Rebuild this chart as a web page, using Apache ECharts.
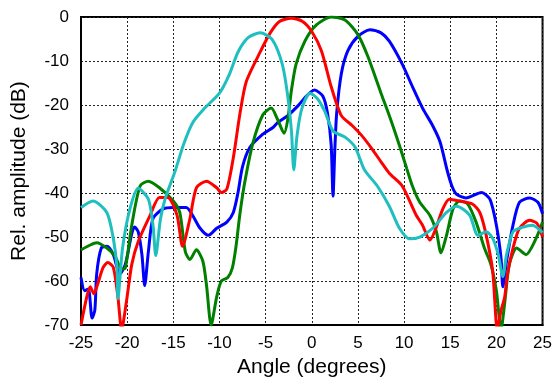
<!DOCTYPE html>
<html>
<head>
<meta charset="utf-8">
<script src="https://cdn.jsdelivr.net/npm/echarts@6/dist/echarts.min.js"></script>
<style>
	html, body { margin: 0; background: #fff; }
	#chart { width: 555px; height: 383px; }
</style>
</head>
<body>
<div id="chart"></div>
<script>
// [angle (deg), relative amplitude (dB)]
const blueBeam = [
	[-25, -59.2], [-24.6, -62.2], [-24.2, -61.8], [-23.8, -68.4], [-23.5, -66.6], [-23.3, -58.4], [-22.8, -52.5],
	[-22.2, -52.1], [-21.5, -54], [-20.8, -58.4], [-20.2, -56.2], [-19.5, -49.2], [-19.2, -47.7], [-18.8, -48.8],
	[-18.4, -54], [-18.1, -61], [-17.7, -53.3], [-17.2, -45.8], [-16.1, -43.6], [-15, -43.3], [-13.6, -43.3],
	[-12.9, -45.1], [-12.1, -48], [-11.2, -49.6], [-10.3, -48], [-9.2, -46.6], [-8.5, -44.4], [-8, -40],
	[-7.5, -34], [-6.7, -29.6], [-5.3, -26.6], [-4.2, -25.1], [-3.7, -24], [-2.6, -22.4], [-1.5, -20.2],
	[-0.6, -18], [0.3, -16.6], [1.2, -18], [1.7, -21.8], [2.1, -29], [2.3, -40.7], [2.5, -30], [2.7, -21.8],
	[3.2, -12.9], [3.9, -7.7], [5, -4.4], [6.3, -2.9], [7.5, -3.6], [8.4, -5.5], [9.8, -10.7], [10.9, -15.8],
	[12, -20.7], [13.1, -24.7], [13.9, -28.4], [14.7, -35.1], [15.2, -38.5], [15.7, -40.3], [16.7, -41.1],
	[18.4, -39.9], [19.3, -41.4], [20, -47.3], [20.5, -54.7], [20.7, -61.3], [21.1, -55.5], [21.8, -47.3],
	[22.5, -42.1], [23.6, -41.1], [24.5, -42.1], [25, -44.7]
];

const redBeam = [
	[-25, -70], [-24.4, -63.8], [-24, -61.3], [-23.6, -62.9], [-23.2, -60.7], [-22.6, -56.9], [-22.1, -55.8],
	[-21.5, -56.9], [-21, -63.6], [-20.6, -71], [-20.1, -65], [-19.5, -56.2], [-18.8, -51], [-17.5, -45],
	[-16.5, -41], [-15.6, -41], [-14.6, -45], [-14, -52.1], [-13.2, -45.8], [-12.5, -38.8], [-11.4, -37.3],
	[-10.3, -38.8], [-9.8, -39.9], [-9.2, -39.1], [-8.5, -32], [-7.8, -22.2], [-7.1, -14.7], [-5.6, -8],
	[-4.5, -3.6], [-3.5, -1], [-2.2, -0.3], [-1, -1], [0, -3.3], [1.05, -7.7], [2.1, -15.8], [3.2, -22.4],
	[4.4, -24.7], [5.4, -26.9], [6.5, -29.9], [7.5, -32.9], [8.4, -35.5], [9.8, -38.4], [11.3, -45],
	[12, -47.3], [12.8, -50.7], [13.3, -48.8], [14.2, -43.6], [14.9, -41.4], [16, -41.8], [17.4, -42.5],
	[18.2, -44.4], [18.9, -49.6], [19.6, -57.8], [20.1, -71], [20.5, -66.7], [20.9, -63.6], [21.2, -58.4],
	[21.8, -52.5], [22.5, -48], [23.6, -46.2], [24.4, -46.9], [25, -50]
];

const greenBeam = [
	[-25, -52.9], [-24, -51.8], [-23.3, -51.3], [-22.2, -52.5], [-21.3, -54.4], [-20.6, -57.3], [-20.2, -57],
	[-19.5, -47.3], [-18.6, -38.4], [-17.7, -37.3], [-16.5, -38.8], [-15, -41.8], [-14.3, -44.4], [-13.7, -53.3],
	[-13.2, -55.1], [-12.5, -52.9], [-11.8, -55.5], [-11.4, -61], [-10.9, -70], [-10.3, -63.6], [-9.8, -60],
	[-9.1, -59.2], [-8.6, -57], [-8.2, -52], [-7.8, -45], [-7.3, -38], [-6.4, -28.8], [-5.3, -22.2],
	[-4.4, -20.7], [-3.7, -23.3], [-3, -26.4], [-2.6, -23.3], [-2.2, -16.6], [-1.7, -10.7], [-0.75, -5.5],
	[0.5, -1.8], [2.1, 0], [3.6, -0.7], [5, -4], [6.1, -9.1], [7.5, -17.3], [8.5, -23], [9.5, -29.2],
	[10.3, -34.5], [10.9, -38.4], [11.7, -42.1], [12.8, -45.1], [13.5, -48.8], [14, -53.6], [14.6, -49.6],
	[15.3, -43.6], [16, -41.8], [16.9, -42.5], [17.8, -46.6], [18.7, -52.5], [19.4, -56.2], [20, -62.2],
	[20.5, -71], [20.9, -65], [21.4, -56.2], [22.2, -52.5], [23.2, -54], [24.3, -50.3], [25, -46.6]
];

const cyanBeam = [
	[-25, -43.3], [-23.7, -41.8], [-22.2, -44.4], [-21.5, -50.3], [-21.1, -57], [-21, -64], [-20.5, -52.5],
	[-19.7, -43.6], [-18.8, -38.9], [-17.7, -41.4], [-17.2, -47.3], [-16.9, -54.2], [-16.4, -46], [-15.9, -41.4],
	[-14.8, -35], [-13.9, -29], [-12.9, -24], [-11.6, -20.7], [-10, -17.3], [-8.9, -12.9], [-8, -8],
	[-6.9, -4.7], [-5.6, -3.6], [-4.3, -5.1], [-3.2, -10.7], [-2.6, -18], [-2.2, -26], [-1.95, -34.7],
	[-1.6, -27], [-1.1, -21], [-0.2, -17.3], [0.6, -18.5], [1.4, -21.4], [2.3, -25.9], [3.6, -27.3],
	[4.7, -29.6], [5.7, -34.7], [7.1, -38.4], [8.4, -43], [9.5, -48], [10.6, -50.4], [11.7, -50],
	[13.1, -48], [14.6, -44.4], [15.7, -43], [17.1, -45], [18, -49.6], [18.9, -48.8], [19.6, -50.3],
	[20.2, -54], [20.7, -59], [21.1, -54], [21.8, -48.8], [22.8, -47.8], [23.9, -47.3], [25, -49]
];

const colors = {
	blue: "#0000ff",
	red: "#ff0000",
	green: "#008000",
	cyan: "#1fbfbf",
	ink: "#000000"
};

const font = "'Liberation Sans', Arial, sans-serif";

const gridLines = {
	show: true,
	lineStyle: { color: "#222", width: 1, type: [2, 2] }
};

const axisLine = { show: true, onZero: false, lineStyle: { color: colors.ink, width: 2 } };
const tickText = { color: colors.ink, fontFamily: font, fontSize: 17 };
const nameText = { color: colors.ink, fontFamily: font, fontSize: 21 };

const beam = (data, color) => ({
	type: "line",
	data,
	smooth: 0.25,
	showSymbol: false,
	clip: true,
	lineStyle: { color, width: 3 },
	itemStyle: { color }
});

const chart = echarts.init(document.getElementById("chart"), null, { renderer: "canvas" });

chart.setOption({
	animation: false,
	grid: { left: 81, right: 12, top: 17, bottom: 51, show: true, borderColor: colors.ink, borderWidth: 2 },
	xAxis: {
		type: "value",
		min: -25,
		max: 25,
		interval: 5,
		name: "Angle (degrees)",
		nameLocation: "middle",
		nameGap: 25,
		nameTextStyle: nameText,
		axisLine,
		axisTick: { show: false },
		axisLabel: { ...tickText, margin: 10 },
		splitLine: gridLines
	},
	yAxis: {
		type: "value",
		min: -70,
		max: 0,
		interval: 10,
		name: "Rel. amplitude (dB)",
		nameLocation: "middle",
		nameGap: 51,
		nameTextStyle: nameText,
		axisLine,
		axisTick: { show: false },
		axisLabel: { ...tickText, margin: 12 },
		splitLine: gridLines
	},
	series: [
		beam(blueBeam, colors.blue),
		beam(greenBeam, colors.green),
		beam(redBeam, colors.red),
		beam(cyanBeam, colors.cyan)
	]
});
</script>
</body>
</html>
